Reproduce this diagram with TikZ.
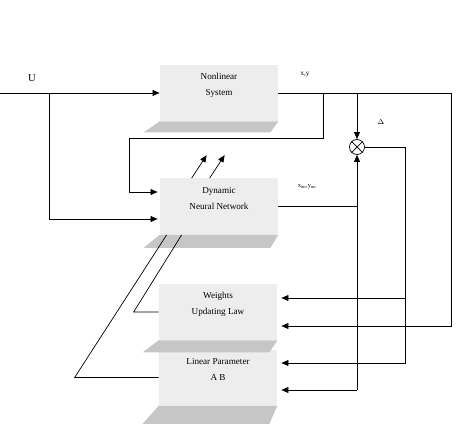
\documentclass[tikz,border=0pt]{standalone}
\usepackage{fontspec}
\setmainfont{Liberation Serif}
\usetikzlibrary{arrows.meta, positioning, calc}

\begin{document}
\begin{tikzpicture}[
  x=0.03cm, y=-0.03cm, line width=0.6pt,
  box/.style={fill=gray!14, minimum width=3.54cm, minimum height=1.68cm, inner sep=0pt},
  lbl/.style={align=center, font=\fontsize{7.8}{13.6}\selectfont, yshift=0.24cm},
  base/.style={fill=gray!45},
  arr/.style={-{Triangle[length=6pt,width=5pt]}},
  sumnode/.style={draw, circle, minimum size=0.45cm, inner sep=0pt},
]
\useasboundingbox (0,0) rectangle (457,428);

% blocks
\node[box, label={[lbl]center:{Nonlinear\\System}}] (ns) at (219,93) {};
\node[box, label={[lbl]center:{Dynamic\\Neural Network}}] (dnn) at (219,206.5) {};
\node[box, label={[lbl]center:{Weights\\Updating Law}}] (wul) at (218,312) {};
\node[box, label={[lbl]center:{Linear Parameter\\A B}}] (lp) at (218,377.5) {};

\foreach \b/\d in {ns/11, dnn/13, wul/12, lp/18}
  \fill[base] (\b.south west) -- (\b.south east) -- ++(-8,\d) -- ($(\b.south west)+(-16,\d)$) -- cycle;

% comparator
\node[sumnode] (cmp) at (357,147) {};
\draw (cmp.north west) -- (cmp.south east) (cmp.north east) -- (cmp.south west);

% labels
\node[font=\fontsize{9}{9}\selectfont] (ulab) at (32,78) {U};
\node[font=\fontsize{6}{6}\selectfont] (xylab) at (305,75) {x,y};
\node[font=\fontsize{5.5}{5.5}\selectfont] (nnlab) at (307,187) {x$_{\rm nn}$,y$_{\rm nn}$};
\node[font=\fontsize{6}{6}\selectfont] (dlab) at (381,122) {$\Delta$};

% branch points
\coordinate (uin) at (0,93);
\coordinate (ub) at (49,93);
\coordinate (yend) at (451,93);
\coordinate (yb) at (323,93);
\coordinate (db) at (357,93);
\coordinate (wb) at (405,298);
\coordinate (nb) at (357,390);

% connectors
\draw[arr] (uin) -- (ns.west);
\draw[arr] (ub) |- ($(dnn.west)+(-2,12.5)$);
\draw (ns.east) -- (yend);
\draw[arr] (yb) |- (129,138) |- ($(dnn.west)+(-2,-14.5)$);
\draw[arr] (db) -- (cmp.north);
\draw[arr] (cmp.east) -| (405,363) -- ($(lp.east)+(4,-14.5)$);
\draw[arr] (wb) -- ($(wul.east)+(4,-14)$);
\draw[arr] (yend) |- ($(wul.east)+(4,14)$);
\draw (dnn.east) -- (dnn.east -| cmp);
\draw[arr] (nb) -- (cmp.south);
\draw[arr] (nb) -- ($(lp.east)+(4,12.5)$);

% parameter adjustment
\draw (wul.west) -- ++(-25,0) -- ($(dnn.south west)+(22,0)$);
\draw (lp.west) -- ++(-84,0) -- ($(dnn.south west)+(7,0)$);
\draw[arr] ($(dnn.north west)+(32,0)$) -- ++(15,-23);
\draw[arr] ($(dnn.north west)+(50,0)$) -- ++(15,-23);

\end{tikzpicture}
\end{document}
